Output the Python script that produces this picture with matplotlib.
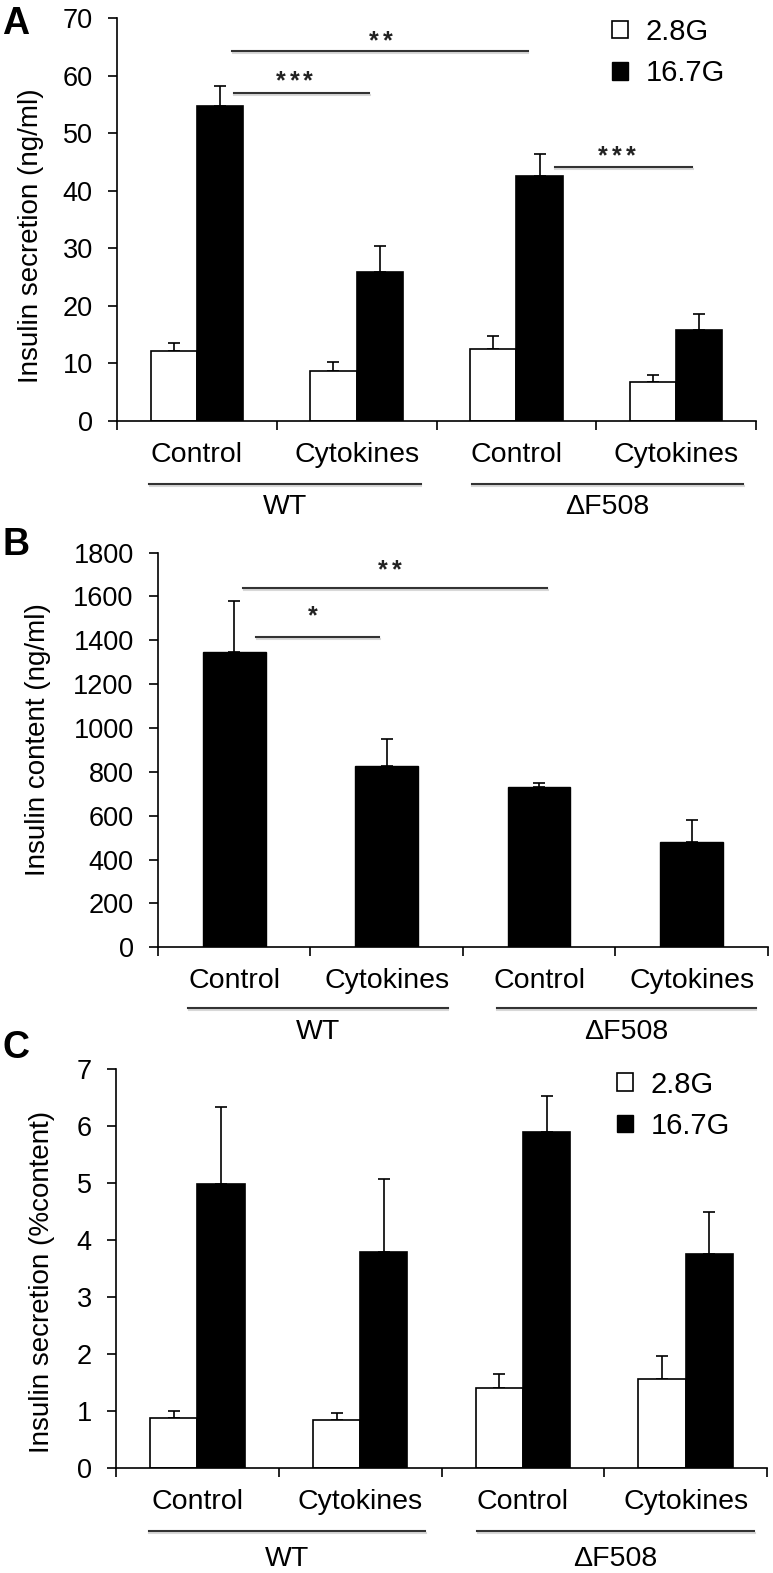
import matplotlib
matplotlib.use("Agg")
import matplotlib.pyplot as plt
import matplotlib.patheffects as pe
from matplotlib.patches import Patch
import numpy as np

plt.rcParams['font.family'] = ['Liberation Sans', 'DejaVu Sans']

# data
cats = ['Control', 'Cytokines', 'Control', 'Cytokines']
groups = ['WT', '\u0394F508']
series = ['2.8G', '16.7G']

# A: insulin secretion (ng/ml)
a_low = [12.2, 8.7, 12.5, 6.8]
a_low_err = [1.3, 1.6, 2.3, 1.2]
a_high = [54.7, 25.9, 42.6, 15.8]
a_high_err = [3.5, 4.5, 3.8, 2.8]

# B: insulin content (ng/ml)
b_content = [1347, 827, 732, 482]
b_err = [232, 121, 16, 98]

# C: insulin secretion (% content)
c_low = [0.87, 0.84, 1.39, 1.55]
c_low_err = [0.13, 0.125, 0.25, 0.41]
c_high = [4.98, 3.78, 5.88, 3.74]
c_high_err = [1.34, 1.28, 0.63, 0.74]

fig = plt.figure(figsize=(7.73, 15.73), dpi=100)
axA = fig.add_axes([0.1514, 0.7324, 0.8266, 0.2562])
axB = fig.add_axes([0.2044, 0.3978, 0.7891, 0.2509])
axC = fig.add_axes([0.1501, 0.0669, 0.8422, 0.2538])

shadow = [pe.SimpleLineShadow(offset=(0.5, -1.5), alpha=0.3, shadow_color='gray'), pe.Normal()]
x = np.arange(4) + 0.5


def style_axis(ax, ymax, ystep, ylabel, lab_xy, line_y, grp_y):
    ax.set_xlim(0, 4)
    ax.set_ylim(0, ymax)
    ax.set_yticks(np.arange(0, ymax + ystep / 2, ystep))
    ax.spines['top'].set_visible(False)
    ax.spines['right'].set_visible(False)
    for s in ['left', 'bottom']:
        ax.spines[s].set_linewidth(1.2)
    ax.set_xticks([0, 1, 2, 3, 4])
    ax.set_xticklabels([])
    ax.set_xticks(x, minor=True)
    ax.set_xticklabels(cats, minor=True, fontsize=20.5)
    ax.tick_params(axis='x', which='minor', length=0, pad=15)
    ax.tick_params(axis='x', which='major', length=6.5, width=1.2, direction='out')
    ax.tick_params(axis='y', length=6.5, width=1.2, labelsize=19.5, pad=11)
    ax.set_ylabel(ylabel, fontsize=20)
    ax.yaxis.set_label_coords(*lab_xy)
    tr = ax.get_xaxis_transform()
    for (x0, x1), g in zip([(0.2, 1.9), (2.22, 3.92)], groups):
        ax.plot([x0, x1], [line_y, line_y], transform=tr, clip_on=False,
                color='#333333', lw=1.5, path_effects=shadow)
        ax.text((x0 + x1) / 2, grp_y, g, transform=tr, ha='center', va='center',
                fontsize=20.5)


def paired_bars(ax, low, low_err, high, high_err, w=0.29):
    ax.bar(x - w / 2, low, w, color='white', edgecolor='black', linewidth=1.2, zorder=2)
    ax.bar(x + w / 2, high, w, color='black', edgecolor='black', linewidth=1.2, zorder=2)
    ax.errorbar(x - w / 2, low, yerr=[np.zeros(4), low_err], fmt='none', ecolor='black',
                elinewidth=1.2, capsize=4.5, capthick=1.2, zorder=1)
    ax.errorbar(x + w / 2, high, yerr=[np.zeros(4), high_err], fmt='none', ecolor='black',
                elinewidth=1.2, capsize=4.5, capthick=1.2, zorder=1)


def sig(ax, x0, x1, y, label, tx, ty):
    ax.plot([x0, x1], [y, y], color='#333333', lw=1.5, clip_on=False, path_effects=shadow)
    n = len(label)
    for i in range(n):
        ax.annotate('*', (tx, ty), xytext=((i - (n - 1) / 2) * 10, 0),
                    textcoords='offset points', ha='center', va='center',
                    fontsize=18, fontweight='bold', color='#222222')


def legend(ax, anchor):
    handles = [Patch(facecolor='white', edgecolor='black', linewidth=1.2),
               Patch(facecolor='black', edgecolor='black')]
    ax.legend(handles, series, loc='upper left', bbox_to_anchor=anchor, frameon=False,
              fontsize=21, handlelength=0.55, handleheight=0.55, handletextpad=0.6,
              labelspacing=0.45, borderpad=0, borderaxespad=0)


# panel A
paired_bars(axA, a_low, a_low_err, a_high, a_high_err)
style_axis(axA, 70, 10, 'Insulin secretion (ng/ml)', (-0.115, 0.46), -0.156, -0.213)
sig(axA, 0.72, 2.57, 64.3, '**', 1.65, 66.0)
sig(axA, 0.73, 1.58, 57.0, '***', 1.11, 59.0)
sig(axA, 2.74, 3.60, 44.1, '***', 3.13, 46.0)
legend(axA, (0.775, 1.0))

# panel B
axB.bar(x, b_content, 0.41, color='black', edgecolor='black', zorder=2)
axB.errorbar(x, b_content, yerr=[np.zeros(4), b_err], fmt='none', ecolor='black',
             elinewidth=1.2, capsize=4.5, capthick=1.2, zorder=1)
style_axis(axB, 1800, 200, 'Insulin content (ng/ml)', (-0.175, 0.525), -0.153, -0.214)
sig(axB, 0.557, 2.55, 1638, '**', 1.52, 1720)
sig(axB, 0.643, 1.449, 1415, '*', 1.016, 1510)

# panel C
paired_bars(axC, c_low, c_low_err, c_high, c_high_err)
style_axis(axC, 7, 1, 'Insulin secretion (%content)', (-0.093, 0.465), -0.158, -0.229)
legend(axC, (0.77, 0.995))

for lab, yt in [('A', 0.996), ('B', 0.665), ('C', 0.345)]:
    fig.text(0.003, yt, lab, fontsize=27, fontweight='bold', va='top', ha='left')

fig.savefig('out.png', dpi=100)
